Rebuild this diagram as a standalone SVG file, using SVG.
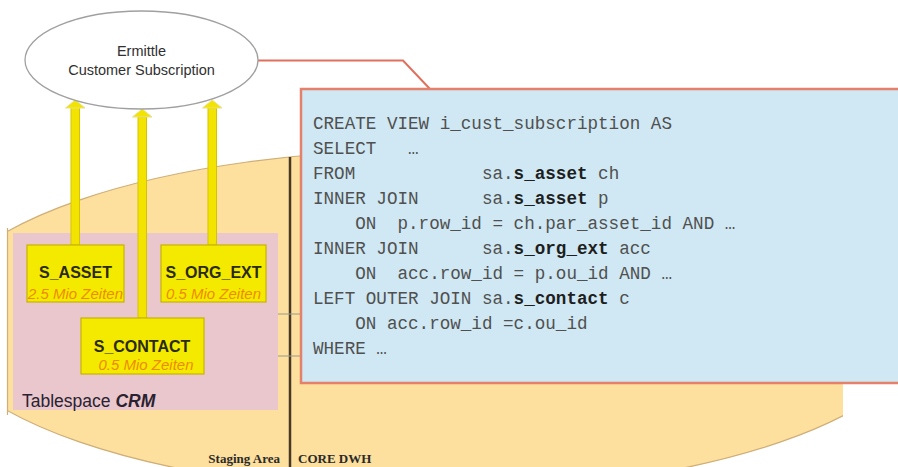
<svg xmlns="http://www.w3.org/2000/svg" width="898" height="467" viewBox="0 0 898 467">
  <style>
    .sans { font-family: "Liberation Sans", Arial, sans-serif; }
    .serif { font-family: "Liberation Serif", "Times New Roman", serif; }
    .mono { font-family: "Liberation Mono", "Courier New", monospace; font-size: 17.6px; fill: #505050; white-space: pre; }
    .mono .b { font-weight: bold; fill: #1e1e1e; }
    .tbl { fill: #f3ea00; stroke: #c8b200; stroke-width: 1.2; }
    .tname { font-family: "Liberation Sans", Arial, sans-serif; font-size: 16px; font-weight: bold; fill: #2a2a10; text-anchor: middle; }
    .tsub { font-family: "Liberation Sans", Arial, sans-serif; font-size: 15px; font-style: italic; fill: #f08a00; text-anchor: middle; }
    .shaft { fill: #f2e400; stroke: #d6c300; stroke-width: 1; }
    .head { fill: #f2e400; stroke: #e8e090; stroke-width: 1; }
    .tick { stroke: #9a9a8a; stroke-width: 1; }
  </style>
  <defs>
    <clipPath id="dbClip">
      <rect x="7" y="0" width="836" height="467"/>
    </clipPath>
  </defs>

  <rect x="0" y="0" width="898" height="467" fill="#ffffff"/>

  <!-- database area (staging + core) -->
  <g id="database">
    <ellipse cx="430" cy="321" rx="496" ry="171" fill="#fddf9e" stroke="#cfae78" stroke-width="1.2" clip-path="url(#dbClip)"/>
    <line x1="7.5" y1="228" x2="7.5" y2="415" stroke="#cfae78" stroke-width="1.2"/>
  </g>

  <!-- tablespace CRM -->
  <g id="tablespace-crm">
    <rect x="13" y="233" width="265" height="177" fill="#e9c7cc"/>
    <text class="sans" x="22" y="407" font-size="17.5" fill="#2a2230">Tablespace <tspan font-weight="bold" font-style="italic">CRM</tspan></text>
  </g>

  <!-- border between staging area and core DWH -->
  <g id="area-divider">
    <line x1="290" y1="157" x2="290" y2="467" stroke="#4a3826" stroke-width="2.5"/>
    <text class="serif" x="280" y="463" font-size="13" font-weight="bold" fill="#2a2a2a" text-anchor="end">Staging Area</text>
    <text class="serif" x="298" y="463" font-size="13" font-weight="bold" fill="#2a2a2a">CORE DWH</text>
  </g>

  <!-- connectors: data flow arrows, callout and ticks -->
  <g id="connectors">
    <rect class="shaft" x="71" y="107" width="8.5" height="138"/>
    <polygon class="head" points="75.2,100 85,108 65.5,108"/>
    <rect class="shaft" x="138" y="117" width="8.5" height="201"/>
    <polygon class="head" points="142.2,109 152,117 132.5,117"/>
    <rect class="shaft" x="208" y="108" width="8.5" height="137"/>
    <polygon class="head" points="212.2,100 222,108 202.5,108"/>
    <polyline points="258,60.5 403,60.5 430,89" fill="none" stroke="#e0705e" stroke-width="2"/>
    <line class="tick" x1="278" y1="314" x2="302" y2="314"/>
    <line class="tick" x1="278" y1="356" x2="302" y2="356"/>
  </g>

  <!-- result view -->
  <g id="customer-subscription">
    <ellipse cx="141.5" cy="60" rx="116.5" ry="49" fill="#ffffff" stroke="#a0a0a0" stroke-width="1.3"/>
    <text class="sans" x="141.5" y="56" font-size="14.5" fill="#303030" text-anchor="middle">Ermittle</text>
    <text class="sans" x="141.5" y="75" font-size="14.5" fill="#303030" text-anchor="middle">Customer Subscription</text>
  </g>

  <!-- source tables -->
  <g id="s-asset">
    <rect class="tbl" x="27" y="245" width="97" height="57"/>
    <text class="tname" x="75.5" y="278">S_ASSET</text>
    <text class="tsub" x="75.5" y="299">2.5 Mio Zeiten</text>
  </g>
  <g id="s-org-ext">
    <rect class="tbl" x="161" y="245" width="105" height="57"/>
    <text class="tname" x="213.5" y="278">S_ORG_EXT</text>
    <text class="tsub" x="213.5" y="299">0.5 Mio Zeiten</text>
  </g>
  <g id="s-contact">
    <rect class="tbl" x="81" y="318" width="123" height="56"/>
    <text class="tname" x="142" y="352">S_CONTACT</text>
    <text class="tsub" x="146" y="370">0.5 Mio Zeiten</text>
  </g>

  <!-- view definition -->
  <g id="view-sql">
    <rect x="301" y="89" width="600" height="294" fill="#cfe8f3" stroke="#e5806a" stroke-width="2.5"/>
    <text class="mono" x="313" y="129">CREATE VIEW i_cust_subscription AS</text>
    <text class="mono" x="313" y="154">SELECT   …</text>
    <text class="mono" x="313" y="179">FROM            sa.<tspan class="b">s_asset</tspan> ch</text>
    <text class="mono" x="313" y="204">INNER JOIN      sa.<tspan class="b">s_asset</tspan> p</text>
    <text class="mono" x="313" y="229">    ON  p.row_id = ch.par_asset_id AND …</text>
    <text class="mono" x="313" y="254">INNER JOIN      sa.<tspan class="b">s_org_ext</tspan> acc</text>
    <text class="mono" x="313" y="279">    ON  acc.row_id = p.ou_id AND …</text>
    <text class="mono" x="313" y="304">LEFT OUTER JOIN sa.<tspan class="b">s_contact</tspan> c</text>
    <text class="mono" x="313" y="329">    ON acc.row_id =c.ou_id</text>
    <text class="mono" x="313" y="354">WHERE …</text>
  </g>
</svg>
